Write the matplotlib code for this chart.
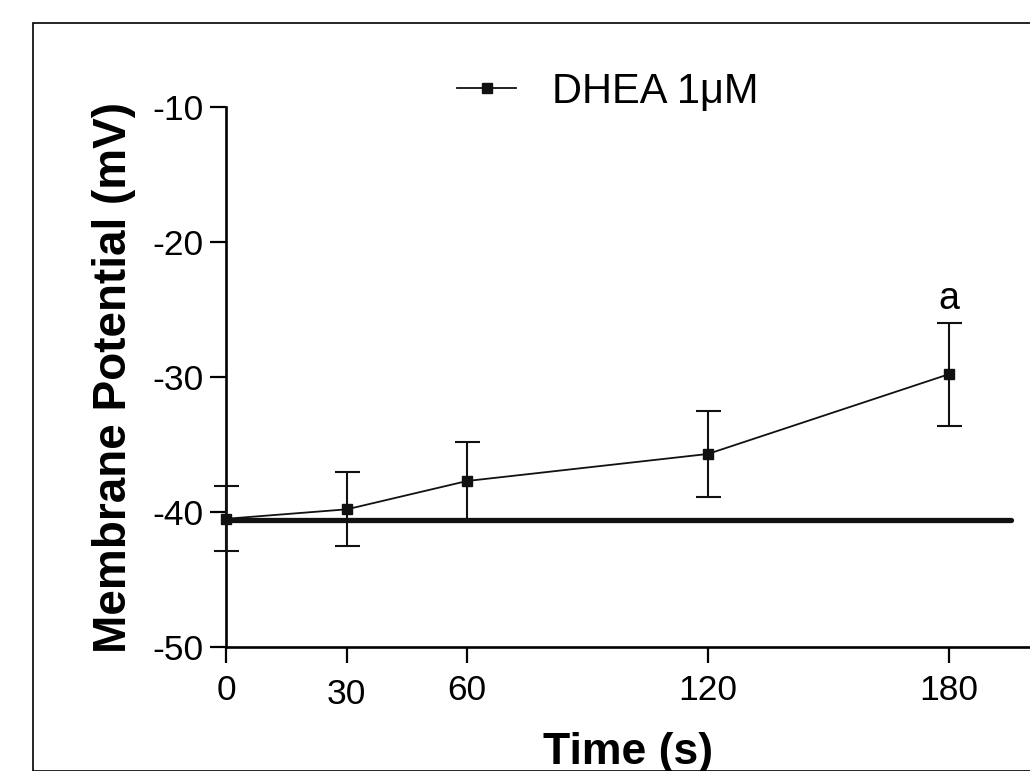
import matplotlib.pyplot as plt
from matplotlib.patches import Rectangle

plt.rcParams['font.family'] = ['Liberation Sans', 'DejaVu Sans']
plt.rcParams['axes.unicode_minus'] = False

times = [0, 30, 60, 120, 180]
potential = [-40.5, -39.8, -37.7, -35.7, -29.8]
sem = [2.4, 2.75, 2.9, 3.2, 3.8]
control_level = -40.6
control_end = 195.5
xtick_labels = ['0', '30', '60', '120', '180']
yticks = [-50, -40, -30, -20, -10]

fig = plt.figure(figsize=(10.30, 7.71), dpi=100)
fig.patches.append(Rectangle((33 / 1030, 0), 1.0, 1 - 23 / 771, transform=fig.transFigure,
                             fill=False, edgecolor='black', linewidth=1.2))

ax = fig.add_axes([0.2199, 0.1608, 0.7801, 0.7004])

ax.plot([0, control_end], [control_level, control_level], color='#111111', linewidth=3.8,
        solid_capstyle='round', zorder=2)
ax.errorbar(times, potential, yerr=sem, color='#111111', linewidth=1.3, marker='s',
            markersize=7.5, capsize=9, capthick=1.5, elinewidth=1.5, zorder=3, clip_on=False)
ax.plot([], [], color='#111111', linewidth=1.3, marker='s', markersize=7.5, label='DHEA 1\u03bcM')

ax.text(180, -24.2, 'a', fontsize=27, ha='center', va='center')

ax.set_xlim(0, 200.3)
ax.set_ylim(-50, -10)
ax.set_xticks(times)
ax.set_xticklabels(xtick_labels)
ax.set_yticks(yticks)

for side in ['top', 'right']:
    ax.spines[side].set_visible(False)
for side in ['left', 'bottom']:
    ax.spines[side].set_linewidth(1.9)
ax.tick_params(axis='both', length=11.5, width=1.6, labelsize=25.5)
ax.tick_params(axis='x', pad=8)
ax.tick_params(axis='y', pad=5)
ax.xaxis.get_major_ticks()[1].set_pad(11)

ax.set_xlabel('Time (s)', fontsize=32, fontweight='bold', labelpad=15)
ax.set_ylabel('Membrane Potential (mV)', fontsize=33, fontweight='bold', labelpad=12)

ax.legend(loc='center left', bbox_to_anchor=(0.287, 1.028), frameon=False, fontsize=30,
          handlelength=1.42, handletextpad=0.86, borderpad=0, borderaxespad=0, numpoints=1)

fig.savefig('out.png', dpi=100)
